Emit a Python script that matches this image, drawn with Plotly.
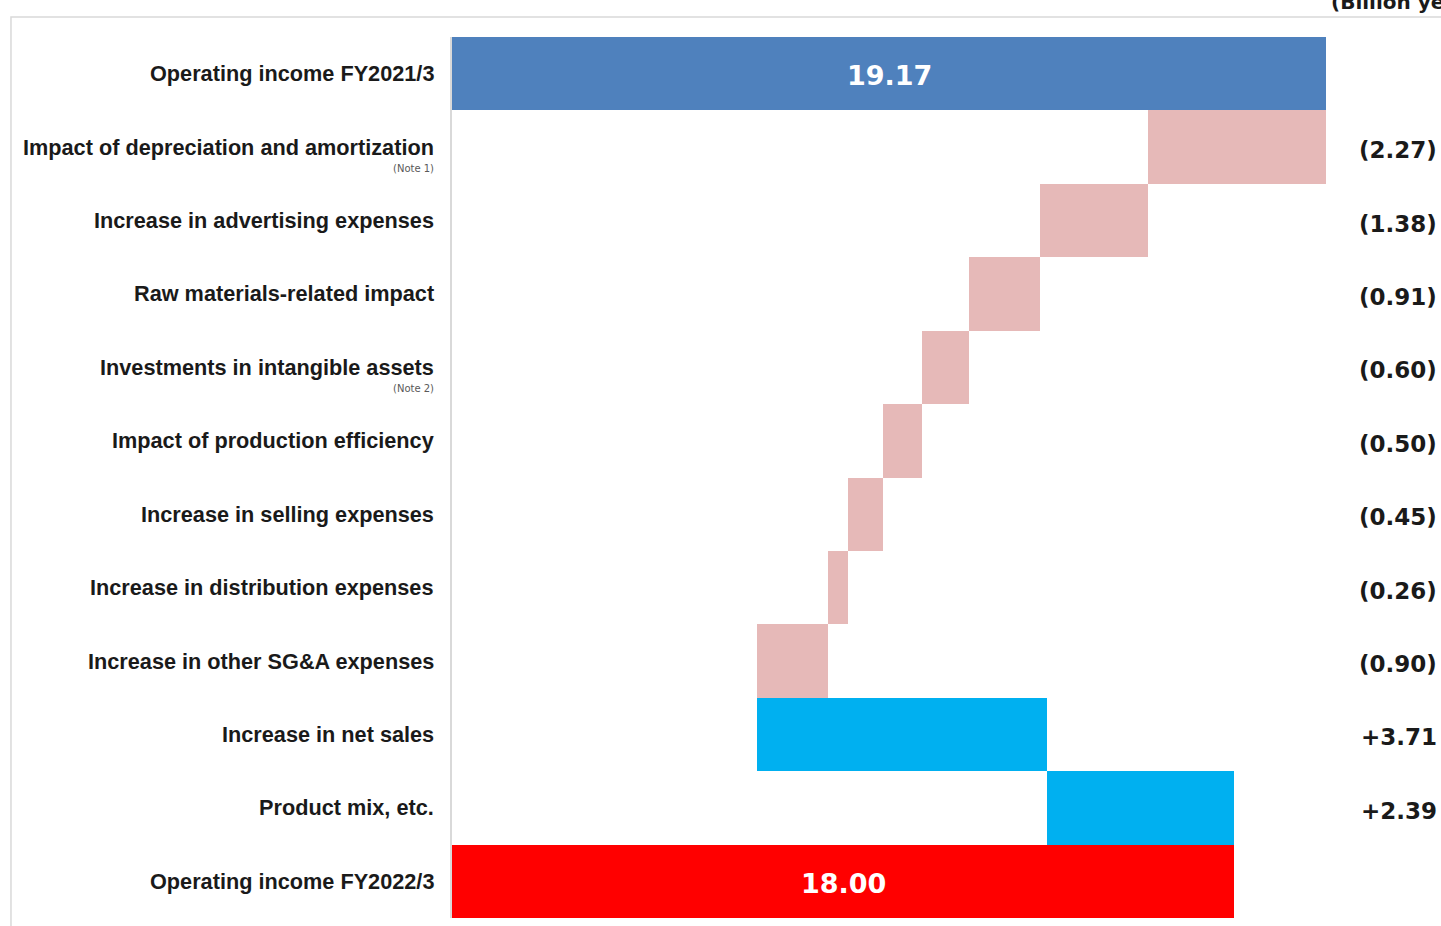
import plotly.graph_objects as go

# Operating income bridge, FY2021/3 -> FY2022/3 (billion yen)
categories = [
    "Operating income FY2021/3",
    "Impact of depreciation and amortization",
    "Increase in advertising expenses",
    "Raw materials-related impact",
    "Investments in intangible assets",
    "Impact of production efficiency",
    "Increase in selling expenses",
    "Increase in distribution expenses",
    "Increase in other SG&A expenses",
    "Increase in net sales",
    "Product mix, etc.",
    "Operating income FY2022/3",
]
notes = ["", "(Note 1)", "", "", "(Note 2)", "", "", "", "", "", "", ""]
measures = ["total", "change", "change", "change", "change", "change",
            "change", "change", "change", "change", "change", "total"]
values = [19.17, -2.27, -1.38, -0.91, -0.60, -0.50, -0.45, -0.26, -0.90,
          3.71, 2.39, 18.00]
unit_label = "(Billion yen)"

AXIS_START = 8.0
C_START, C_END = "#4F81BD", "#FF0000"
C_DOWN, C_UP = "#E6B9B8", "#00B0F0"

# floating bar geometry from running total
bases, widths, colors = [], [], []
running = 0.0
for i, (m, v) in enumerate(zip(measures, values)):
    if m == "total":
        bases.append(0.0)
        widths.append(v)
        running = v
        colors.append(C_START if i == 0 else C_END)
    else:
        new = running + v
        bases.append(min(running, new))
        widths.append(abs(v))
        colors.append(C_UP if v > 0 else C_DOWN)
        running = new

fig = go.Figure(go.Bar(
    y=categories, x=widths, base=bases, orientation="h",
    marker=dict(color=colors, line=dict(width=0)),
    hoverinfo="skip",
))

annotations = []
LABEL_FONT = dict(family="Liberation Sans, Arial", size=21.7, color="#1a1a1a")
for cat, note in zip(categories, notes):
    annotations.append(dict(
        xref="paper", yref="y", x=-0.0183, y=cat, xanchor="right",
        yanchor="middle", text=f"<b>{cat}</b>", showarrow=False, font=LABEL_FONT,
    ))
    if note:
        annotations.append(dict(
            xref="paper", yref="y", x=-0.0183, y=cat, xanchor="right",
            yanchor="middle", yshift=-21, text=note, showarrow=False,
            font=dict(family="DejaVu Sans", size=10, color="#595959"),
        ))

# change values at the right edge, totals centred in their bars
for cat, m, v in zip(categories, measures, values):
    if m == "total":
        annotations.append(dict(
            xref="x", yref="y", x=(AXIS_START + v) / 2, y=cat, yshift=-2,
            text=f"<b>{v:.2f}</b>", showarrow=False,
            font=dict(family="DejaVu Sans", size=27, color="white"),
        ))
    else:
        txt = f"+{v:.2f}" if v > 0 else f"({abs(v):.2f})"
        annotations.append(dict(
            xref="paper", yref="y", x=1.1293, y=cat, xanchor="right",
            yshift=-3, text=f"<b>{txt}</b>", showarrow=False,
            font=dict(family="DejaVu Sans", size=23, color="#1a1a1a"),
        ))

annotations.append(dict(
    xref="paper", yref="paper", x=1.0034, y=1, xanchor="left", yanchor="bottom",
    yshift=21, text=f"<b>{unit_label}</b>", showarrow=False,
    font=dict(family="DejaVu Sans", size=20, color="#1a1a1a"),
))

shapes = [
    # outer panel frame
    dict(type="rect", xref="paper", yref="paper", x0=-0.5046, x1=1.2,
         y0=-0.05, y1=1.0227, line=dict(color="#d9d9d9", width=1.5),
         fillcolor="rgba(0,0,0,0)", layer="below"),
]

fig.update_layout(
    width=1441, height=926,
    margin=dict(l=452, r=115, t=37, b=8),
    paper_bgcolor="white", plot_bgcolor="white",
    bargap=0, showlegend=False,
    xaxis=dict(range=[AXIS_START, values[0]], showgrid=False, zeroline=False,
               showticklabels=False, ticks="", fixedrange=True),
    yaxis=dict(autorange="reversed", showgrid=False, zeroline=False,
               showticklabels=False, ticks="", showline=True,
               linecolor="#d9d9d9", linewidth=2, fixedrange=True),
    annotations=annotations, shapes=shapes,
)

fig.write_html("out.html")
